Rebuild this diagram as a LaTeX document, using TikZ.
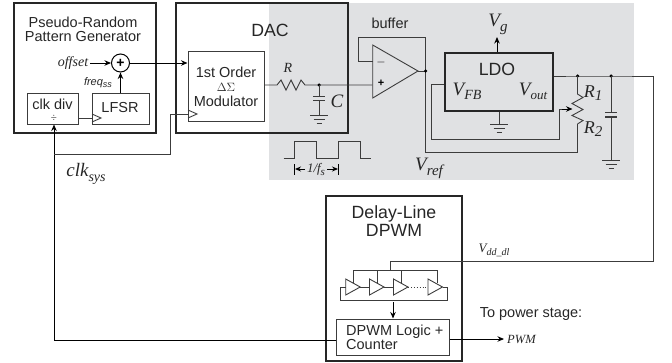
\documentclass[tikz,border=0pt]{standalone}
\usepackage{fontspec}
\setmainfont{Liberation Serif}
\setsansfont{Liberation Sans}
\usetikzlibrary{arrows.meta}
\definecolor{bggray}{HTML}{E0E1E3}
\definecolor{wire}{HTML}{3C3C3C}
\newcommand{\lowlab}[5]{{\fontsize{#3}{#3}\selectfont\itshape #1\raisebox{-#5pt}{\fontsize{#4}{#4}\selectfont #2}}}
\tikzset{
  thick box/.style={draw=black!85,line width=1.5pt,fill=none,inner sep=0pt},
  thin box/.style={draw=wire,line width=1pt,inner sep=0pt},
  wr/.style={draw=wire,line width=0.9pt},
  blk/.style={draw=black,line width=0.9pt},
  arr/.style={-{Stealth[length=6.5pt,width=5.5pt]}},
  lab/.style={font=\sffamily\fontsize{14.5}{14}\selectfont,align=center,inner sep=0pt,text=black!85},
  big/.style={font=\sffamily\fontsize{17.7}{18}\selectfont,align=center,inner sep=0pt,text=black!85},
  ital/.style={font=\rmfamily\itshape,inner sep=0pt,text=black!85},
  dotj/.style={circle,fill=black,inner sep=0pt,minimum size=3.5pt},
}
\newcommand{\gnd}[2]{\draw[wr] (#1-9,#2) -- (#1+9,#2) (#1-5.5,#2+4) -- (#1+5.5,#2+4) (#1-2.5,#2+8) -- (#1+2.5,#2+8);}
\newcommand{\dlbuf}[1]{\draw[wr] (#1,279) -- (#1+14.5,287) -- (#1,295) -- cycle;}
\begin{document}
\begin{tikzpicture}[x=1pt,y=-1pt]
\useasboundingbox (0,0) rectangle (672,362);
\fill[bggray] (269,3) rectangle (634,180);
% blocks
\node[thick box,minimum width=142pt,minimum height=130pt] (prpg) at (85,68) {};
\node[thick box,minimum width=172pt,minimum height=130pt] (dac) at (262,68) {};
\node[thin box,minimum width=76pt,minimum height=70pt] (mod) at (226,86) {};
\node[thin box,minimum width=51pt,minimum height=31pt] (div) at (52.5,108.5) {};
\node[thin box,minimum width=57pt,minimum height=31pt] (lfsr) at (120.5,108.5) {};
\node[draw=black,line width=1pt,circle,minimum size=18pt,inner sep=0pt,font=\sffamily\bfseries\fontsize{14}{14}\selectfont] (sum) at (120.5,63) {+};
\node[thick box,minimum width=108pt,minimum height=58pt] (ldo) at (499,82) {};
\node[thick box,minimum width=136pt,minimum height=165pt] (dpwm) at (394,278.5) {};
\node[thin box,minimum width=113pt,minimum height=36pt] (logic) at (392.5,337) {};
% texts
\node[lab] (t1) at (83,29) {Pseudo-Random\\Pattern Generator};
\node[big] (t2) at (270,30) {DAC};
\node[ital,font=\rmfamily\itshape\fontsize{14}{14}\selectfont] (offs) at (73,63) {offset};
\node[ital,font=\sffamily\itshape\fontsize{11}{11}\selectfont] (fr) at (98,83) {freq\raisebox{-2pt}{\fontsize{9}{9}\selectfont ss}};
\node[lab] (t3) at (52.5,104) {clk div};
\node[lab,font=\rmfamily\fontsize{11}{11}\selectfont] (t4) at (54,118) {÷};
\node[lab] (t5) at (120,108) {LFSR};
\node[lab] (t6) at (226,72.5) {1st Order};
\node[lab,font=\rmfamily\fontsize{13}{13}\selectfont] (t7) at (226,87) {$\Delta\Sigma$};
\node[lab] (t8) at (226,101) {Modulator};
\node[ital,font=\rmfamily\itshape\fontsize{14}{14}\selectfont] (tR) at (288,68) {R};
\node[ital,font=\rmfamily\itshape\fontsize{19}{19}\selectfont] (tC) at (337,101) {C};
\node[lab] (t9) at (390,23) {buffer};
\node[big] (t10) at (497,69) {LDO};
\node[ital] (tVg) at (498,24) {\lowlab{V}{g}{19}{15}{5}};
\node[ital] (tfb) at (467,91) {\lowlab{V}{FB}{19}{14}{4}};
\node[ital] (tvo) at (533,91) {\lowlab{V}{out}{19}{13}{4}};
\node[ital] (tr1) at (593,93) {\lowlab{R}{1}{18}{15}{3}};
\node[ital] (tr2) at (593,129) {\lowlab{R}{2}{18}{15}{3}};
\node[ital] (tref) at (429,168) {\lowlab{V}{ref}{19}{15}{5}};
\node[ital] (tsys) at (86,174) {\lowlab{clk}{sys}{19}{14}{5}};
\node[ital] (tfs) at (316,169) {\fontsize{13}{13}\selectfont 1/f\raisebox{-3pt}{\fontsize{11}{11}\selectfont s}};
\node[big] (t11) at (394,221) {Delay-Line\\DPWM};
\node[ital] (tdd) at (494,250) {\lowlab{V}{dd\_dl}{13}{10}{3}};
\node[lab] (t12) at (531,314) {To power stage:};
\node[ital,font=\rmfamily\itshape\fontsize{12.5}{12.5}\selectfont,anchor=west] (tpwm) at (507,339) {PWM};
\node[lab,align=left,anchor=west] (t13) at (346,337.5) {DPWM Logic +\\Counter};
% summer connections
\draw[blk,arr] (offs.east) ++(2,0) coordinate (o1) -- (sum.west);
\draw[blk,arr] (lfsr.north -| sum.south) -- (sum.south);
\draw[blk,arr] (sum.east) -- (mod.west |- sum.east);
% clocks
\coordinate (clkb) at (54,190);
\draw[blk,arr] (54,338) coordinate (clka) -- (54,124.5);
\coordinate (br) at (54,154);
\coordinate (br1) at (170,154);
\coordinate (br2) at (170,114);
\draw[wr] (br) -- (br1) -- (br2) -- (mod.west |- br2);
\draw[wr] (188,110) -- (197,114) -- (188,118);
\draw[wr] (div.east |- 0,118) -- (lfsr.west |- 0,118);
\draw[wr] (92,114) -- (101,118) -- (92,122);
\draw[blk] (clka) -- (54,340) coordinate (clkc) -- (logic.west |- clkc);
% RC filter
\coordinate (rc) at (319,85);
\coordinate (opp) at (372.7,85);
\draw[wr] (mod.east |- rc) -- (277,85) -- (281,80) -- (286,90) -- (291,80) -- (296,90) -- (301,80) -- (305,85) -- (rc) -- (opp);
\node[dotj] (rcn) at (rc) {};
\draw[wr] (rc) -- (319,96);
\draw[wr] (313,96) -- (325,96) (313,100) -- (325,100);
\draw[wr] (319,100) -- (319,115);
\gnd{319}{115}
% op amp
\coordinate (opa) at (372.7,45);
\coordinate (opb) at (372.7,98);
\coordinate (opo) at (418,71);
\draw[wr,fill=bggray] (opa) -- (opo) -- (opb) -- cycle;
\node[font=\sffamily\fontsize{12}{12}\selectfont,inner sep=0pt] (opm) at (381,62) {$-$};
\node[font=\sffamily\bfseries\fontsize{11}{11}\selectfont,inner sep=0pt] (opl) at (381,83) {+};
\coordinate (fbi) at (372.7,61.5);
\coordinate (outn) at (425.5,71);
\draw[wr] (fbi) -- (358,61.5) -- (358,37.5) -- (425.5,37.5) -- (outn);
\draw[wr] (opo) -- (outn) -- (425.5,152) coordinate (r0) -- (577.5,152) coordinate (r1) -- (577.5,124);
\node[dotj] (dout) at (outn) {};
% LDO
\draw[blk,arr] (ldo.north -| 497,0) -- (497,37);
\draw[wr] (ldo.south -| 499,0) -- (499,124);
\gnd{499}{124}
\coordinate (vo) at (577.5,76);
\coordinate (vc) at (611,76);
\coordinate (vr) at (653,76);
\coordinate (vb) at (653,261);
\draw[wr] (ldo.east |- vo) -- (vo) -- (vc) -- (vr) -- (vb) -- (390,261) -- (390,270);
\node[dotj] (dvo) at (vo) {};
\node[dotj] (dvc) at (vc) {};
\draw[wr] (vo) -- (577.5,94) -- (583,97.5) -- (572,103.5) -- (583,109.5) -- (572,115.5) -- (583,120.5) -- (577.5,124);
\draw[wr] (ldo.west |- 0,84) -- (431,84) -- (431,139) -- (559,139) -- (559,109) -- (563,109);
\draw[blk,arr] (562,109) -- (572.5,109);
\draw[wr] (vc) -- (611,112);
\draw[wr,line width=1.1pt] (605,112.5) -- (617,112.5) (605,117) -- (617,117);
\draw[wr] (611,117) -- (611,160);
\gnd{611}{160}
% waveform
\draw[wr] (283.5,158) -- (294.5,158) -- (294.5,141.5) -- (316.5,141.5) -- (316.5,158) -- (338,158) -- (338,141.5) -- (360,141.5) -- (360,158) -- (371,158);
\draw[blk] (294.5,164) -- (294.5,175) (338,164) -- (338,175);
\draw[blk,-{Stealth[length=6pt,width=5pt]}] (305,169) -- (295,169);
\draw[blk,-{Stealth[length=6pt,width=5pt]}] (327,169) -- (338,169);
% delay line
\dlbuf{345.7}\dlbuf{369.5}\dlbuf{393.5}\dlbuf{428}
\draw[wr] (353,283) -- (353,270) -- (437,270) -- (437,283);
\draw[wr] (377,283) -- (377,270) (401,283) -- (401,270);
\draw[wr] (360.2,287) -- (369.5,287) (384,287) -- (393.5,287);
\draw[wr,dotted] (408,287) -- (428,287);
\draw[wr] (442.5,287) -- (447,287) -- (447,300) -- (340,300) -- (340,287) -- (345.7,287);
\draw[blk,arr] (393,302) -- (logic.north -| 393,0);
\draw[blk,arr] (logic.east |- tpwm) -- (504,339);
\end{tikzpicture}
\end{document}
